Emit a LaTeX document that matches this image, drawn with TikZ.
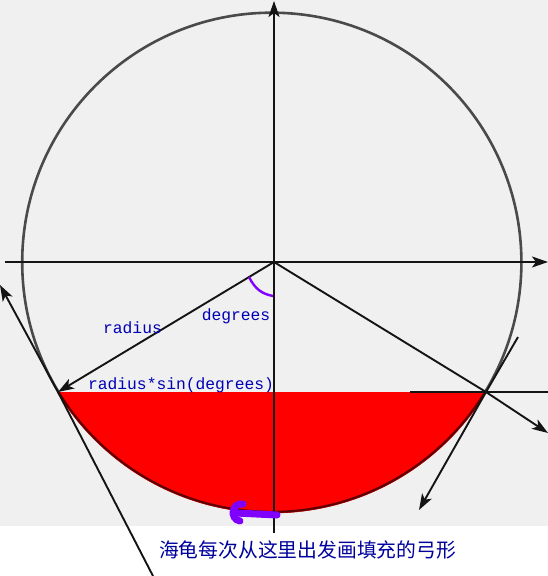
\documentclass[tikz,border=0pt]{standalone}
\usepackage{fontspec}
\newfontfamily\monofont{Liberation Mono}
\newfontfamily\cjk{Noto Sans CJK SC}
\usetikzlibrary{arrows.meta}
\definecolor{bggray}{HTML}{F0F0F0}
\definecolor{circgray}{HTML}{4A4A4A}
\definecolor{lblblue}{HTML}{0000B4}
\definecolor{cjkblue}{HTML}{00009C}
\definecolor{hookpurple}{HTML}{8000FF}
\definecolor{segred}{HTML}{FF0000}
\definecolor{segborder}{HTML}{600000}
\tikzset{
  ln/.style={draw=black!92, line width=1.9pt},
  arr/.style={ln, -{Stealth[length=16pt,width=11pt,inset=4pt]}},
  lbl/.style={text=lblblue, font=\monofont\fontsize{16.3}{18}\selectfont, inner sep=0pt, anchor=base},
}
\begin{document}
\begin{tikzpicture}[x=1pt,y=-1pt]
\useasboundingbox (0,0) rectangle (548,576);
\fill[bggray] (0,0) rectangle (548,526);
\coordinate (C) at (271.8,262.3);
\coordinate (O) at (274,262);
\coordinate (A) at (58,392);
\coordinate (B) at (486,392);
% circle
\draw[circgray, line width=2.6pt] (C) circle (249.6);
% red segment
\begin{scope}
  \clip (C) circle (251);
  \clip (0,392) rectangle (548,530);
  \fill[segred] (0,392) rectangle (548,530);
  \draw[segborder, line width=2.2pt] (C) circle (249.6);
\end{scope}
% axes
\coordinate (xs) at (5,262);
\coordinate (xe) at (548,262);
\coordinate (ys) at (274,533);
\coordinate (ye) at (274,1);
\draw[arr] (xs) -- (xe);
\draw[arr] (ys) -- (ye);
% radii
\draw[arr] (O) -- (A);
\coordinate (Rend) at (548,433);
\draw[arr] (O) -- (B) -- (Rend);
% horizontal from chord end
\coordinate (Hs) at (410,392);
\coordinate (He) at (548,392);
\draw[ln] (Hs) -- (He);
% left tangent-like line
\coordinate (Lb) at (153,576);
\coordinate (Lt) at (0,285);
\draw[arr] (Lb) -- (A) -- (Lt);
% right line
\coordinate (Rt) at (518,337);
\coordinate (Rb) at (419,510);
\draw[arr] (Rt) -- (B) -- (Rb);
% purple angle mark
\coordinate (p1) at (249,277);
\coordinate (p2) at (273,296);
\draw[hookpurple, line width=2.4pt] (p1) .. controls (255,289) and (262,294) .. (p2);
% purple hook
\coordinate (h1) at (243,504);
\coordinate (h2) at (240,521);
\coordinate (h3) at (236,513);
\coordinate (h4) at (277,515);
\draw[hookpurple, line width=7pt, line cap=round] (h1) .. controls (232,502) and (229,519) .. (h2);
\draw[hookpurple, line width=7pt, line cap=round] (h3) -- (h4);
% labels
\node[lbl] (t1) at (132.5,333) {radius};
\node[lbl] (t2) at (236,320) {degrees};
\node[lbl] (t3) at (181,389) {radius*sin(degrees)};
\node[text=cjkblue, font=\cjk\fontsize{19.8}{22}\selectfont, inner sep=0pt] (t4) at (307.5,550) {海龟每次从这里出发画填充的弓形};
\end{tikzpicture}
\end{document}
